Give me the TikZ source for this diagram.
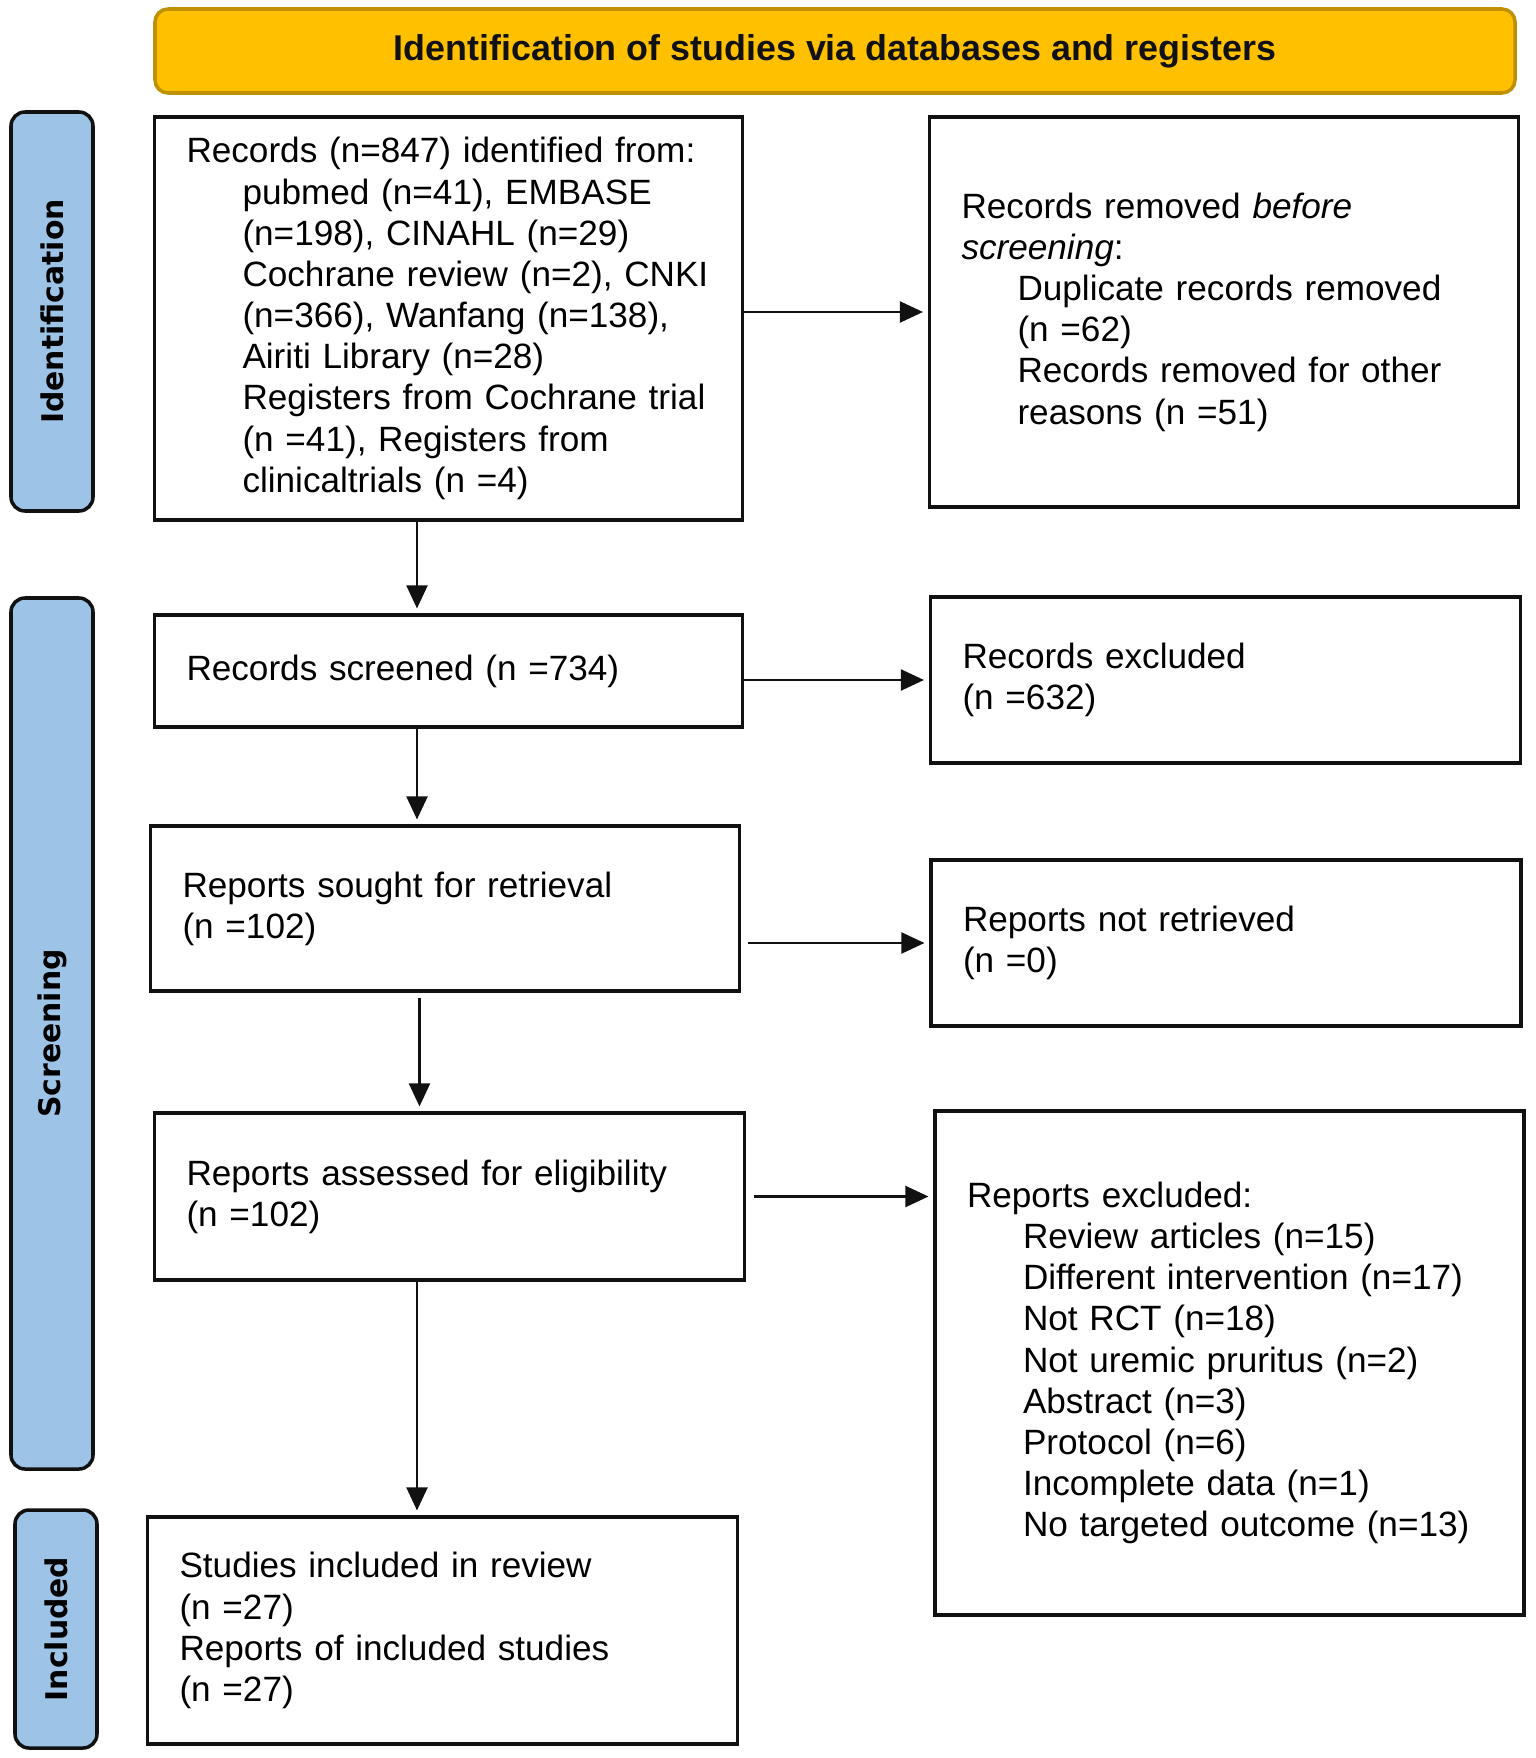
\documentclass[tikz,border=0pt]{standalone}
\usepackage{fontspec}
\setmainfont{Liberation Sans}
\newfontfamily\sidefam{DejaVu Sans}
\usetikzlibrary{arrows.meta}
\definecolor{gold}{HTML}{FFC000}
\definecolor{goldedge}{HTML}{BF9000}
\definecolor{sideblue}{HTML}{9DC3E6}
\definecolor{ink}{HTML}{111111}
\newcommand\ind{\hspace*{0.56cm}}
\newcommand\mainsz{\fontsize{10pt}{11.72pt}\selectfont}
\tikzset{
  box/.style={draw=ink, line width=0.9pt, fill=white, align=left,
    inner xsep=0.32cm, inner ysep=0pt, font=\mainsz, text=black},
  arr/.style={-{Triangle[length=0.23cm,width=0.21cm]}, line width=0.6pt,
    draw=ink, shorten >=0.05cm},
  side/.style={draw=ink, line width=1pt, fill=sideblue, rounded corners=0.14cm,
    rotate=90, minimum height=0.82cm, inner sep=0pt,
    font=\sidefam\bfseries\fontsize{8.5pt}{10pt}\selectfont},
  banner/.style={draw=goldedge, line width=1pt, fill=gold, rounded corners=0.13cm,
    minimum width=13.60cm, minimum height=0.84cm, inner sep=0pt,
    font=\bfseries\fontsize{10.2pt}{12pt}\selectfont, text=ink}
}
\begin{document}
\begin{tikzpicture}
\useasboundingbox (0,0) rectangle (15.35,-17.58);

\node[banner] (ban) at (8.35,-0.51) {Identification of studies via databases and registers};

\node[side, minimum width=3.99cm] (sid) at (0.52,-3.115) {Identification};
\node[side, minimum width=8.71cm] (ssc) at (0.52,-10.335) {Screening};
\node[side, minimum width=2.38cm] (sin) at (0.56,-16.29) {Included};

\node[box, text width=5.24cm, minimum height=4.03cm] (box1) at (4.485,-3.185) {%
\mbox{Records (n=847) identified from:}\\
\ind\mbox{pubmed (n=41), EMBASE}\\
\ind\mbox{(n=198), CINAHL (n=29)}\\
\ind\mbox{Cochrane review (n=2), CNKI}\\
\ind\mbox{(n=366), Wanfang (n=138),}\\
\ind\mbox{Airiti Library (n=28)}\\
\ind\mbox{Registers from Cochrane trial}\\
\ind\mbox{(n =41), Registers from}\\
\ind\mbox{clinicaltrials (n =4)}};

\node[box, text width=5.25cm, minimum height=3.90cm] (removed) at (12.24,-3.12) {%
\mbox{Records removed \textit{before}}\\
\mbox{\textit{screening}:}\\
\ind\mbox{Duplicate records removed}\\
\ind\mbox{(n =62)}\\
\ind\mbox{Records removed for other}\\
\ind\mbox{reasons (n =51)}};

\node[box, text width=5.24cm, minimum height=1.12cm] (screened) at (4.485,-6.71) {%
\mbox{Records screened (n =734)}};

\node[box, text width=5.26cm, minimum height=1.66cm] (excluded) at (12.255,-6.80) {%
\mbox{Records excluded}\\
\mbox{(n =632)}};

\node[box, text width=5.25cm, minimum height=1.65cm] (sought) at (4.45,-9.085) {%
\mbox{Reports sought for retrieval}\\
\mbox{(n =102)}};

\node[box, text width=5.26cm, minimum height=1.66cm] (notret) at (12.26,-9.43) {%
\mbox{Reports not retrieved}\\
\mbox{(n =0)}};

\node[box, text width=5.26cm, minimum height=1.67cm] (assessed) at (4.495,-11.965) {%
\mbox{Reports assessed for eligibility}\\
\mbox{(n =102)}};

\node[box, text width=5.25cm, minimum height=5.04cm] (repexcl) at (12.295,-13.63) {%
\mbox{Reports excluded:}\\
\ind\mbox{Review articles (n=15)}\\
\ind\mbox{Different intervention (n=17)}\\
\ind\mbox{Not RCT (n=18)}\\
\ind\mbox{Not uremic pruritus (n=2)}\\
\ind\mbox{Abstract (n=3)}\\
\ind\mbox{Protocol (n=6)}\\
\ind\mbox{Incomplete data (n=1)}\\
\ind\mbox{No targeted outcome (n=13)}};

\node[box, text width=5.26cm, minimum height=2.27cm] (included) at (4.425,-16.305) {%
\mbox{Studies included in review}\\
\mbox{(n =27)}\\
\mbox{Reports of included studies}\\
\mbox{(n =27)}};

\coordinate (vx) at (4.17,0);
\coordinate (vx2) at (4.195,0);
\draw[arr] (box1.south -| vx) -- (screened.north -| vx);
\draw[arr] (screened.south -| vx) -- (sought.north -| vx);
\draw[arr, shorten <=0.05cm] (sought.south -| vx2) -- (assessed.north -| vx2);
\draw[arr] (assessed.south -| vx) -- (included.north -| vx);

\draw[arr] (box1.east |- removed.west) -- (removed.west);
\draw[arr] (screened.east |- excluded.west) -- (excluded.west);
\draw[arr, shorten <=0.07cm] (sought.east |- notret.west) -- (notret.west);
\draw[arr, shorten <=0.08cm] (assessed.east) -- (assessed.east -| repexcl.west);
\end{tikzpicture}
\end{document}
